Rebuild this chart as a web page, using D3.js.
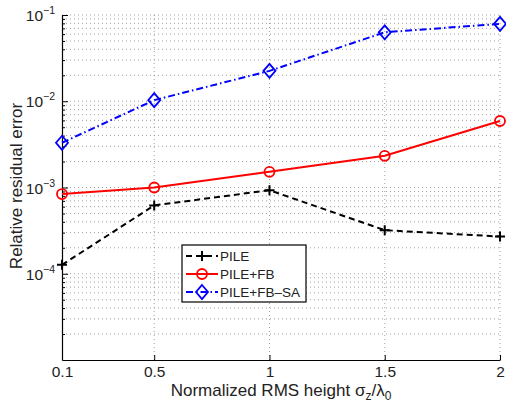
<!DOCTYPE html>
<html><head><meta charset="utf-8">
<script src="https://cdn.jsdelivr.net/npm/d3@7"></script>
<style>body{margin:0;background:#fff}svg{display:block;font-family:"Liberation Sans",Arial,sans-serif}</style>
</head><body><svg id="c" width="506" height="404"></svg>
<script>
const xValues = [0.1, 0.5, 1, 1.5, 2];
const xTickLabels = ["0.1", "0.5", "1", "1.5", "2"];
const pile = [1.27e-4, 6.2e-4, 9.3e-4, 3.2e-4, 2.7e-4];
const pileFB = [8.4e-4, 1.0e-3, 1.52e-3, 2.33e-3, 5.9e-3];
const pileFBSA = [3.3e-3, 1.03e-2, 2.25e-2, 6.3e-2, 7.9e-2];
const seriesNames = ["PILE", "PILE+FB", "PILE+FB\u2013SA"];
const yTickExps = [-4, -3, -2, -1];

const svg = d3.select("#c");
const L = 62, R = 500, T = 15, B = 360;
const x = d3.scaleLinear().domain([0.1, 2]).range([L, R]);
const y = d3.scaleLog().domain([1e-5, 1e-1]).range([B, T]);

// grid
const g = svg.append("g");
const minor = [];
for (let e = -5; e <= -2; e++) for (let m = 1; m <= 9; m++) { const v = m * Math.pow(10, e); if (v > 1e-5) minor.push(v); }
minor.push(1e-1);
g.selectAll(".hg").data(minor).enter().append("line")
  .attr("x1", L).attr("x2", R).attr("y1", d => y(d)).attr("y2", d => y(d))
  .attr("stroke", "#888").attr("stroke-width", 0.8).attr("stroke-dasharray", "1,3");
g.selectAll(".vg").data(xValues.slice(1)).enter().append("line")
  .attr("x1", d => x(d)).attr("x2", d => x(d)).attr("y1", T).attr("y2", B)
  .attr("stroke", "#888").attr("stroke-width", 0.8).attr("stroke-dasharray", "1,3");

// axes
const xa = svg.append("g").attr("transform", `translate(0,${B})`)
  .call(d3.axisBottom(x).tickValues(xValues).tickFormat((d, i) => xTickLabels[i]).tickSizeInner(-5).tickSizeOuter(0).tickPadding(6));
xa.select(".domain").attr("stroke", "#000").attr("stroke-width", 1.2);
xa.selectAll("text").attr("font-size", 15.5).attr("fill", "#222");

const ya = svg.append("g").attr("transform", `translate(${L},0)`)
  .call(d3.axisLeft(y).tickValues(minor).tickFormat("").tickSizeInner(-3).tickSizeOuter(0));
ya.select(".domain").attr("stroke", "#000").attr("stroke-width", 1.2);
ya.selectAll(".tick").filter(d => Math.abs(Math.log10(d) - Math.round(Math.log10(d))) < 1e-6).select("line").attr("x2", 6);
const yl = svg.append("g");
yTickExps.forEach(e => {
  const t = yl.append("text").attr("x", L - 7).attr("y", y(Math.pow(10, e)) + 6)
    .attr("text-anchor", "end").attr("font-size", 15.5).attr("fill", "#222");
  t.append("tspan").text("10");
  t.append("tspan").attr("dy", -7).attr("font-size", 10.5).text("\u2212" + Math.abs(e));
});

svg.append("text").attr("transform", `translate(22,186) rotate(-90)`)
  .attr("text-anchor", "middle").attr("font-size", 17).attr("fill", "#222").text("Relative residual error");
const xt = svg.append("text").attr("x", 281).attr("y", 396).attr("text-anchor", "middle").attr("font-size", 17).attr("fill", "#222");
xt.append("tspan").text("Normalized RMS height \u03c3");
xt.append("tspan").attr("dy", 4).attr("font-size", 12).text("z");
xt.append("tspan").attr("dy", -4).text("/\u03bb");
xt.append("tspan").attr("dy", 4).attr("font-size", 12).text("0");

const line = d3.line().x((d, i) => x(xValues[i])).y(d => y(d));
const series = [
  {data: pile, color: "#000", dash: "6,4", marker: "plus"},
  {data: pileFB, color: "#f00", dash: null, marker: "circle"},
  {data: pileFBSA, color: "#00f", dash: "7,3,1.5,3", marker: "diamond"}
];
function marker(sel, s, cx, cy) {
  if (s.marker === "plus") {
    sel.append("path").attr("d", `M${cx - 5},${cy}H${cx + 5}M${cx},${cy - 5}V${cy + 5}`).attr("stroke", s.color).attr("stroke-width", 2).attr("fill", "none");
  } else if (s.marker === "circle") {
    sel.append("circle").attr("cx", cx).attr("cy", cy).attr("r", 5).attr("stroke", s.color).attr("stroke-width", 1.8).attr("fill", "none");
  } else {
    sel.append("path").attr("d", `M${cx},${cy - 7}L${cx + 6},${cy}L${cx},${cy + 7}L${cx - 6},${cy}Z`).attr("stroke", s.color).attr("stroke-width", 1.8).attr("fill", "none");
  }
}
series.forEach(s => {
  svg.append("path").datum(s.data).attr("d", line).attr("fill", "none").attr("stroke", s.color)
    .attr("stroke-width", 2).attr("stroke-dasharray", s.dash);
  const mg = svg.append("g");
  s.data.forEach((v, i) => marker(mg, s, x(xValues[i]), y(v)));
});

// legend
const lg = svg.append("g");
lg.append("rect").attr("x", 182).attr("y", 245).attr("width", 124).attr("height", 57).attr("fill", "#fff").attr("stroke", "#000").attr("stroke-width", 1.2);
series.forEach((s, i) => {
  const cy = 256 + i * 18;
  lg.append("line").attr("x1", 186).attr("x2", 218).attr("y1", cy).attr("y2", cy).attr("stroke", s.color).attr("stroke-width", 2).attr("stroke-dasharray", s.dash);
  marker(lg, s, 202, cy);
  lg.append("text").attr("x", 220).attr("y", cy + 5).attr("font-size", 13.5).attr("fill", "#222").text(seriesNames[i]);
});
</script></body></html>
